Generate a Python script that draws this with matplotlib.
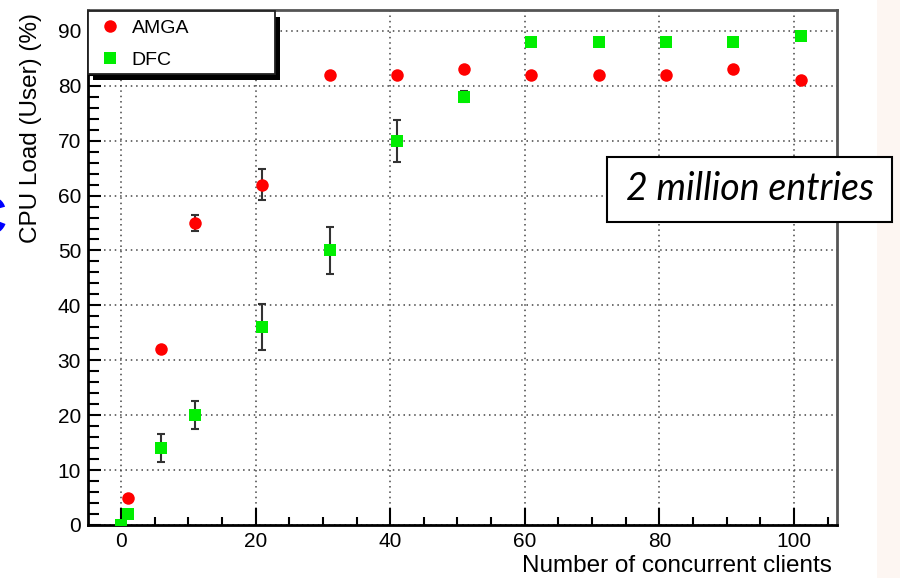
import matplotlib.pyplot as plt
from matplotlib.patches import Rectangle
from matplotlib.ticker import MultipleLocator
import numpy as np

# data
amga_x = [1, 6, 11, 21, 31, 41, 51, 61, 71, 81, 91, 101]
amga_y = [5, 32, 55, 62, 82, 82, 83, 82, 82, 82, 83, 81]
amga_err = [0, 0.5, 1.5, 2.8, 0, 0, 0, 0, 0, 0, 0, 0]

dfc_x = [0, 1, 6, 11, 21, 31, 41, 51, 61, 71, 81, 91, 101]
dfc_y = [0, 2, 14, 20, 36, 50, 70, 78, 88, 88, 88, 88, 89]
dfc_err = [0, 0, 2.6, 2.5, 4.2, 4.2, 3.8, 1.0, 0, 0, 0, 0, 0]

W, H = 900, 578
plt.rcParams['font.family'] = ['Liberation Sans', 'DejaVu Sans']

fig = plt.figure(figsize=(W / 100, H / 100), dpi=100)
# faint pink strip at the right edge of the slide
fig.patches.append(Rectangle((877 / W, 0), 23 / W, 1, transform=fig.transFigure,
                             facecolor='#fdf6f2', edgecolor='none', zorder=0))

ax = fig.add_axes([88 / W, 53 / H, 749 / W, 515 / H])
ax.set_xlim(-4.9, 106.4)
ax.set_ylim(0, 93.8)

ax.xaxis.set_major_locator(MultipleLocator(20))
ax.xaxis.set_minor_locator(MultipleLocator(5))
ax.yaxis.set_major_locator(MultipleLocator(10))
ax.yaxis.set_minor_locator(MultipleLocator(2))
ax.grid(True, which='major', linestyle=(0, (1, 2.5)), color='#444444', linewidth=1.1, zorder=0)
ax.set_axisbelow(True)

ax.tick_params(axis='x', which='major', direction='in', length=12, width=1.5, labelsize=15, pad=5)
ax.tick_params(axis='x', which='minor', direction='in', length=6, width=1.5)
ax.tick_params(axis='y', which='major', direction='in', length=9, width=1.5, labelsize=15, pad=5)
ax.tick_params(axis='y', which='minor', direction='in', length=8, width=1.5)

for s in ['left', 'bottom']:
    ax.spines[s].set_linewidth(2)
    ax.spines[s].set_color('black')
for s in ['top', 'right']:
    ax.spines[s].set_linewidth(2)
    ax.spines[s].set_color('#555555')

a_x, a_y, a_e = np.array(amga_x), np.array(amga_y), np.array(amga_err)
d_x, d_y, d_e = np.array(dfc_x), np.array(dfc_y), np.array(dfc_err)
ma, md = a_e > 0, d_e > 0
ax.errorbar(a_x[ma], a_y[ma], yerr=a_e[ma], fmt='none', ecolor='#333333',
            elinewidth=1.5, capsize=3, capthick=1.5, zorder=3)
ax.errorbar(d_x[md], d_y[md], yerr=d_e[md], fmt='none', ecolor='#333333',
            elinewidth=1.5, capsize=3, capthick=1.5, zorder=3)
h_amga, = ax.plot(amga_x, amga_y, 'o', color='#ff0000', markersize=9, markeredgewidth=0,
                  label='AMGA', zorder=4)
h_dfc, = ax.plot(dfc_x, dfc_y, 's', color='#00ee00', markersize=8.5, markeredgewidth=0,
                 label='DFC', zorder=4)

# axis titles, ROOT style (right / top aligned)
fig.text(832 / W, 1 - 566 / H, 'Number of concurrent clients', ha='right', va='center',
         fontsize=17.5)
fig.text(31 / W, 1 - 13 / H, 'CPU Load (User) (%)', rotation=90, ha='center', va='top',
         fontsize=17.5)

# legend box with hard black shadow
lx0, ly0, lx1, ly1 = 88, 11, 275, 74
fig.patches.append(Rectangle(((lx0 + 5) / W, 1 - (ly1 + 6) / H), (lx1 - lx0) / W,
                             (ly1 - ly0) / H, transform=fig.transFigure,
                             facecolor='black', edgecolor='none', zorder=5))
fig.patches.append(Rectangle((lx0 / W, 1 - ly1 / H), (lx1 - lx0) / W, (ly1 - ly0) / H,
                             transform=fig.transFigure, facecolor='white',
                             edgecolor='#222222', linewidth=1.3, zorder=6))
leg = fig.legend(handles=[h_amga, h_dfc], loc='upper left', bbox_to_anchor=(83 / W, 1 - 2 / H),
                 bbox_transform=fig.transFigure, frameon=False, fontsize=14,
                 handlelength=1.0, handletextpad=0.6, labelspacing=0.72)
leg.set_zorder(7)

# annotation box
bx0, by0, bx1, by1 = 607, 157, 892, 222
fig.patches.append(Rectangle((bx0 / W, 1 - by1 / H), (bx1 - bx0) / W, (by1 - by0) / H,
                             transform=fig.transFigure, facecolor='white',
                             edgecolor='black', linewidth=1.5, zorder=5))
fig.text((bx0 + bx1) / 2 / W, 1 - (by0 + by1) / 2 / H, '2 million entries', ha='center',
         va='center', fontsize=27, style='italic', family=['Lato', 'DejaVu Sans'], zorder=6)

# partly cut off blue letter at the slide's left edge
fig.text(7 / W, 1 - 220 / H, 'C', color='#0000ff', fontsize=38, fontweight='bold',
         ha='right', va='center')

fig.savefig('out.png', dpi=100)
